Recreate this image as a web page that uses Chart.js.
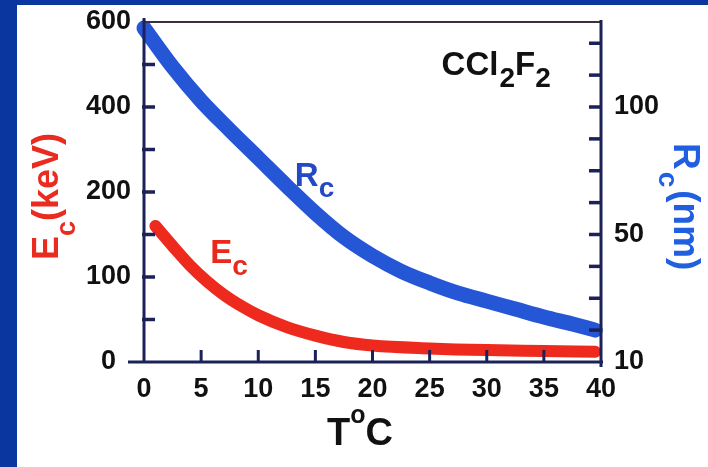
<!DOCTYPE html>
<html>
<head>
<meta charset="utf-8">
<script src="https://cdn.jsdelivr.net/npm/chart.js@4.4.1/dist/chart.umd.min.js"></script>
<style>
  html, body { margin: 0; padding: 0; width: 708px; height: 467px; overflow: hidden; background: #0a36a0; }
  #wrap { position: absolute; left: 17px; top: 5px; width: 691px; height: 462px; background: #fff; }
</style>
</head>
<body>
<div id="wrap"><canvas id="chart" width="691" height="462"></canvas></div>
<script>
// R_c (nm) against temperature (°C)
const tempR = [0, 2.5, 5, 7.5, 10, 12.5, 15, 17.5, 20, 22.5, 25, 27.5, 30, 32.5, 35, 37.5, 39.5];
const radiusNm = [131, 115.7, 102.4, 91, 80, 69, 58.4, 49.2, 43.3, 38.5, 34.8, 31.6, 29.1, 26.6, 24.1, 21.9, 20];

// E_c (keV) against temperature (°C)
const tempE = [1, 2.5, 4, 5.5, 7, 8.5, 10, 12.5, 15, 17.5, 20, 25, 30, 35, 39.5];
const energyKeV = [160, 136.5, 114, 95, 79, 66, 55, 41, 31, 23.5, 19.4, 16, 14, 13, 12];

// tick labels (both value axes are drawn with evenly spaced labels)
const tempTicks = [0, 5, 10, 15, 20, 25, 30, 35, 40];
const energyTicks = [0, 100, 200, 400, 600];
const radiusTicks = [10, 50, 100];

const NAVY = '#1c2257';
const BLUE = '#2556d6';
const RED = '#ee2a1e';
const FONT = "'Liberation Sans', Arial, sans-serif";

// position of a value on an axis whose labels are evenly spaced
function toIndex(v, ticks) {
  for (let i = 0; i < ticks.length - 1; i++) {
    if (v <= ticks[i + 1] || i === ticks.length - 2) {
      return i + (v - ticks[i]) / (ticks[i + 1] - ticks[i]);
    }
  }
}

function line(ctx, x1, y1, x2, y2) {
  ctx.beginPath();
  ctx.moveTo(x1, y1);
  ctx.lineTo(x2, y2);
  ctx.stroke();
}

// draws text pieces one after another, each with its own font and baseline shift
function drawParts(ctx, x, y, angle, parts) {
  ctx.save();
  ctx.translate(x, y);
  ctx.rotate(angle);
  ctx.textAlign = 'left';
  ctx.textBaseline = 'alphabetic';
  let dx = 0;
  parts.forEach(p => {
    ctx.font = p.font;
    ctx.fillStyle = p.color;
    dx += p.gap || 0;
    ctx.fillText(p.text, dx, p.dy || 0);
    dx += ctx.measureText(p.text).width;
  });
  ctx.restore();
}

const axisFrame = {
  id: 'axisFrame',
  afterDatasetsDraw(chart) {
    const { ctx, chartArea: a, scales } = chart;
    ctx.save();
    ctx.lineCap = 'butt';
    ctx.strokeStyle = '#3a3040';
    ctx.lineWidth = 2;
    line(ctx, a.left, a.top, a.right, a.top);

    ctx.strokeStyle = NAVY;
    ctx.lineWidth = 3;
    line(ctx, a.left, a.top - 4, a.left, a.bottom);
    line(ctx, a.right, a.top - 2, a.right, a.bottom + 5);
    line(ctx, a.left - 16, a.bottom, a.right + 2, a.bottom);

    ctx.lineWidth = 3.5;
    scales.y.ticks.forEach(t => {
      if (t.value <= 0 || t.value >= 4) return;
      const p = scales.y.getPixelForValue(t.value);
      line(ctx, a.left - 2, p, a.left + 11, p);
    });
    scales.y2.ticks.forEach(t => {
      if (t.value <= 0) return;
      const p = scales.y2.getPixelForValue(t.value);
      line(ctx, a.right - 12, p, a.right, p);
    });
    ctx.lineWidth = 3;
    tempTicks.forEach(t => {
      if (t <= 0 || t >= 40) return;
      const p = scales.x.getPixelForValue(t);
      line(ctx, p, a.bottom - 12, p, a.bottom);
    });
    ctx.restore();
  },
  afterDraw(chart) {
    const { ctx, chartArea: a, scales } = chart;
    const bold = s => 'bold ' + s + 'px ' + FONT;

    // curve labels
    drawParts(ctx, scales.x.getPixelForValue(13.2), scales.y.getPixelForValue(2.07), 0, [
      { text: 'R', font: bold(33), color: '#2349c4' },
      { text: 'c', font: bold(28), color: '#2349c4', dy: 11 }
    ]);
    drawParts(ctx, scales.x.getPixelForValue(5.8), scales.y.getPixelForValue(1.165), 0, [
      { text: 'E', font: bold(33), color: '#e8291c' },
      { text: 'c', font: bold(28), color: '#e8291c', dy: 12 }
    ]);
    drawParts(ctx, scales.x.getPixelForValue(26.05), scales.y.getPixelForValue(3.376), 0, [
      { text: 'CCl', font: bold(33), color: '#111' },
      { text: '2', font: bold(28), color: '#111', dy: 12, gap: 1 },
      { text: 'F', font: bold(33), color: '#111' },
      { text: '2', font: bold(28), color: '#111', dy: 12 }
    ]);

    // axis titles
    drawParts(ctx, a.left - 86, a.bottom - 102, -Math.PI / 2, [
      { text: 'E', font: bold(36), color: '#ea2b20' },
      { text: 'c', font: bold(27), color: '#ea2b20', dy: 17 },
      { text: '(keV)', font: bold(36), color: '#ea2b20' }
    ]);
    drawParts(ctx, a.right + 73, a.top + 121, Math.PI / 2, [
      { text: 'R', font: bold(37), color: '#1f5fe0' },
      { text: 'c', font: bold(28), color: '#1f5fe0', dy: 15, gap: 2 },
      { text: '(nm)', font: bold(37), color: '#1f5fe0', gap: 3 }
    ]);
    drawParts(ctx, a.left + 183, a.bottom + 83, 0, [
      { text: 'T', font: bold(38), color: '#111' },
      { text: 'o', font: bold(25), color: '#111', dy: -22 },
      { text: 'C', font: bold(38), color: '#111' }
    ]);
  }
};

const tickFont = { family: FONT, size: 27, weight: 'bold' };

// fixed box sizes so the plot area sits where the original one does
function fixWidth(w) {
  return s => { s.width = w; s.paddingTop = 0; s.paddingBottom = 0; };
}

new Chart(document.getElementById('chart'), {
  type: 'line',
  data: {
    datasets: [
      {
        label: 'Rc',
        data: tempR.map((t, i) => ({ x: t, y: toIndex(radiusNm[i], radiusTicks) })),
        yAxisID: 'y2',
        borderColor: BLUE,
        borderWidth: 15,
        borderCapStyle: 'round',
        borderJoinStyle: 'round',
        cubicInterpolationMode: 'monotone',
        pointRadius: 0,
        clip: false
      },
      {
        label: 'Ec',
        data: tempE.map((t, i) => ({ x: t, y: toIndex(energyKeV[i], energyTicks) })),
        yAxisID: 'y',
        borderColor: RED,
        borderWidth: 12,
        borderCapStyle: 'round',
        borderJoinStyle: 'round',
        cubicInterpolationMode: 'monotone',
        pointRadius: 0,
        clip: false
      }
    ]
  },
  options: {
    responsive: false,
    animation: false,
    events: [],
    layout: { padding: { top: 17, left: 0, right: 0, bottom: 0 } },
    plugins: { legend: { display: false }, tooltip: { enabled: false } },
    scales: {
      x: {
        type: 'linear',
        min: 0,
        max: 40,
        afterBuildTicks: s => { s.ticks = tempTicks.map(v => ({ value: v })); },
        ticks: { font: tickFont, color: '#111', padding: 11, maxRotation: 0, autoSkip: false },
        grid: { display: false, drawTicks: false },
        border: { display: false },
        afterFit: s => { s.height = 105; s.paddingLeft = 0; s.paddingRight = 0; }
      },
      y: {
        position: 'left',
        min: 0,
        max: energyTicks.length - 1,
        afterBuildTicks: s => {
          s.ticks = [];
          for (let k = 0; k <= (energyTicks.length - 1) * 2; k++) s.ticks.push({ value: k / 2 });
        },
        ticks: {
          font: tickFont, color: '#111', padding: 13, autoSkip: false,
          callback: v => v === 0 ? '0  ' : (Number.isInteger(v) ? String(energyTicks[v]) : '')
        },
        grid: { display: false, drawTicks: false },
        border: { display: false },
        afterFit: fixWidth(127)
      },
      y2: {
        position: 'right',
        min: 0,
        max: 340 / 127.5,
        afterBuildTicks: s => {
          s.ticks = [];
          for (let k = 0; k <= 10; k++) s.ticks.push({ value: k / 4 });
        },
        ticks: {
          font: tickFont, color: '#111', padding: 13, autoSkip: false,
          callback: v => Number.isInteger(v) ? String(radiusTicks[v]) : ''
        },
        grid: { display: false, drawTicks: false },
        border: { display: false },
        afterFit: fixWidth(107)
      }
    }
  },
  plugins: [axisFrame]
});
</script>
</body>
</html>
